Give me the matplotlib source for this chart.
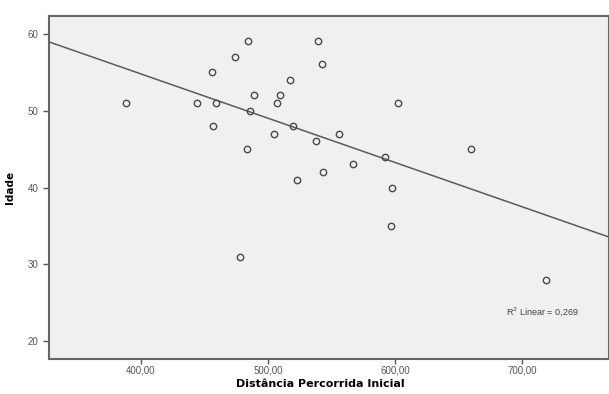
import numpy as np
import matplotlib.pyplot as plt

distancia = [484.7, 539.7, 474.0, 542.4, 455.9, 517.2, 488.9, 509.8, 444.1,
             459.0, 507.2, 602.7, 486.2, 457.1, 519.8, 504.9, 556.3, 538.2,
             483.9, 592.0, 567.3, 543.7, 522.7, 598.0, 388.4, 659.9, 478.1,
             596.9, 718.9]
idade = [59, 59, 57, 56, 55, 54, 52, 52, 51,
         51, 51, 51, 50, 48, 48, 47, 47, 46,
         45, 44, 43, 42, 41, 40, 51, 45, 31,
         35, 28]

x = np.array(distancia)
y = np.array(idade)
slope, intercept = np.polyfit(x, y, 1)

plt.rcParams['font.family'] = ['Liberation Sans', 'DejaVu Sans']

fig = plt.figure(figsize=(6.09, 3.94), dpi=100)
ax = fig.add_axes([0.0805, 0.0888, 0.9195, 0.8706])
ax.set_facecolor('#f0f0f0')

xlim = (327.8, 768.5)
ax.set_xlim(xlim)
ax.set_ylim(17.7, 62.3)

xs = np.array(xlim)
ax.plot(xs, intercept + slope * xs, color='#5a5a5a', lw=1.1, zorder=2)
ax.plot(x, y, 'o', ms=4.6, mfc='none', mec='#4a4a4a', mew=1.0, zorder=3)

ax.set_xticks([400, 500, 600, 700])
ax.set_xticklabels(['400,00', '500,00', '600,00', '700,00'])
ax.set_yticks([20, 30, 40, 50, 60])
ax.tick_params(labelsize=7, colors='#555555', length=4, width=1)
ax.tick_params(axis='x', pad=1.5, length=3.5)

for s in ax.spines.values():
    s.set_color('#666666')
    s.set_linewidth(1.5)

ax.set_xlabel('Distância Percorrida Inicial', fontsize=8, fontweight='bold',
              family='DejaVu Sans')
ax.xaxis.set_label_coords(0.484, -0.057)
ax.set_ylabel('Idade', fontsize=7.5, fontweight='bold', family='DejaVu Sans')
ax.yaxis.set_label_coords(-0.06, 0.5)

ax.text(715.7, 23.9, 'R$^2$ Linear = 0,269', fontsize=6.5, color='#444444',
        ha='center', va='center')

fig.savefig('out.png', dpi=100)
